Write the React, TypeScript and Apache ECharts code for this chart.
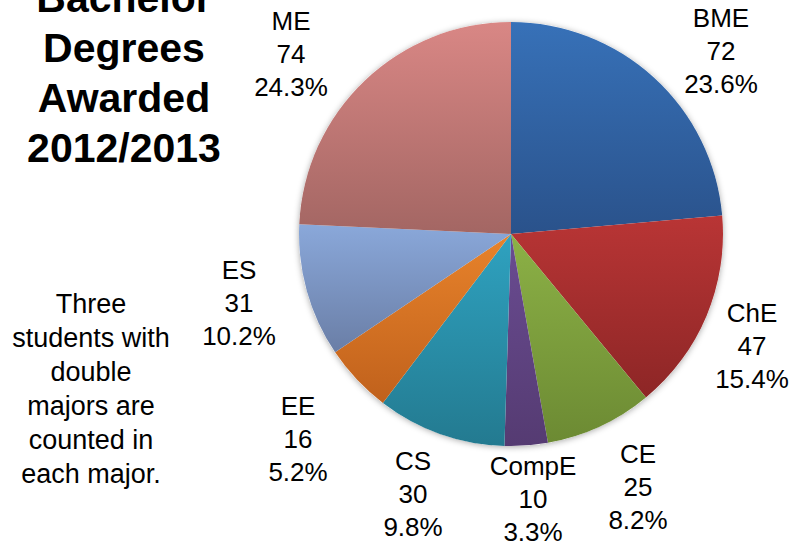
import React, { useEffect, useRef } from "react";
import * as echarts from "echarts";

const majors = ["BME", "ChE", "CE", "CompE", "CS", "EE", "ES", "ME"];
const degrees = [72, 47, 25, 10, 30, 16, 31, 74];
const topColors = ["#3771b8", "#b93535", "#8cb146", "#6a4c92", "#2fa2c0", "#e8832b", "#8aa8da", "#d98785"];
const bottomColors = ["#2a528b", "#8d2626", "#6c8a33", "#553b72", "#237a90", "#c0611c", "#6a7ea6", "#a36663"];
const titleLines = ["Bachelor", "Degrees", "Awarded", "2012/2013"];
const noteLines = ["Three", "students with", "double", "majors are", "counted in", "each major."];

// layout: label block centres (pixels), in the order of majors
const labelCenters: [number, number][] = [
  [721, 51],
  [752, 346],
  [638, 487],
  [533, 499],
  [413, 494],
  [298, 439],
  [239, 303],
  [291, 54],
];

const CX = 511;
const CY = 234;
const R = 212;

export default function App() {
  const ref = useRef<HTMLDivElement>(null);
  useEffect(() => {
    if (!ref.current) return;
    const chart = echarts.init(ref.current, null, { renderer: "svg" });
    const total = degrees.reduce((a, b) => a + b, 0);
    const font = '"Liberation Sans", Arial, sans-serif';
    chart.setOption({
      animation: false,
      graphic: [
        {
          type: "text",
          x: 124,
          y: -27,
          style: {
            text: titleLines.join("\n"),
            fontSize: 41,
            fontWeight: "bold",
            fontFamily: font,
            lineHeight: 50,
            textAlign: "center",
            textVerticalAlign: "top",
            fill: "#000",
          },
        },
        {
          type: "text",
          x: 91,
          y: 287,
          style: {
            text: noteLines.join("\n"),
            fontSize: 27,
            fontFamily: font,
            lineHeight: 34,
            textAlign: "center",
            textVerticalAlign: "top",
            fill: "#000",
          },
        },
      ],
      series: [
        {
          type: "pie",
          silent: true,
          center: [CX, CY],
          radius: R,
          z: 1,
          label: { show: false },
          labelLine: { show: false },
          itemStyle: {
            color: "#ffffff",
            shadowBlur: 6,
            shadowColor: "rgba(0,0,0,0.35)",
            shadowOffsetX: 0,
            shadowOffsetY: 1,
          },
          data: [{ value: total, name: "all" }],
        },
        {
          type: "pie",
          center: [CX, CY],
          radius: R,
          startAngle: 90,
          clockwise: true,
          z: 2,
          data: majors.map((m, i) => ({
            name: m,
            value: degrees[i],
            itemStyle: {
              color: new echarts.graphic.LinearGradient(0, 0, 0, 1, [
                { offset: 0, color: topColors[i] },
                { offset: 1, color: bottomColors[i] },
              ]),
              borderWidth: 0,
            },
          })),
          label: {
            show: true,
            position: "inside",
            overflow: "none",
            formatter: (p: any) =>
              `${p.name}\n${p.value}\n${((p.value / total) * 100).toFixed(1)}%`,
            fontSize: 26,
            fontFamily: font,
            lineHeight: 33,
            color: "#000",
            align: "center",
          },
          labelLine: { show: false },
          labelLayout: (params: any) => {
            const c = labelCenters[params.dataIndex];
            return {
              x: c[0],
              y: c[1],
              align: "center",
              verticalAlign: "middle",
            };
          },
        },
      ],
    });
    return () => chart.dispose();
  }, []);
  return (
    <div
      ref={ref}
      style={{ position: "fixed", left: 0, top: 0, width: 792, height: 543, background: "#fff" }}
    />
  );
}
